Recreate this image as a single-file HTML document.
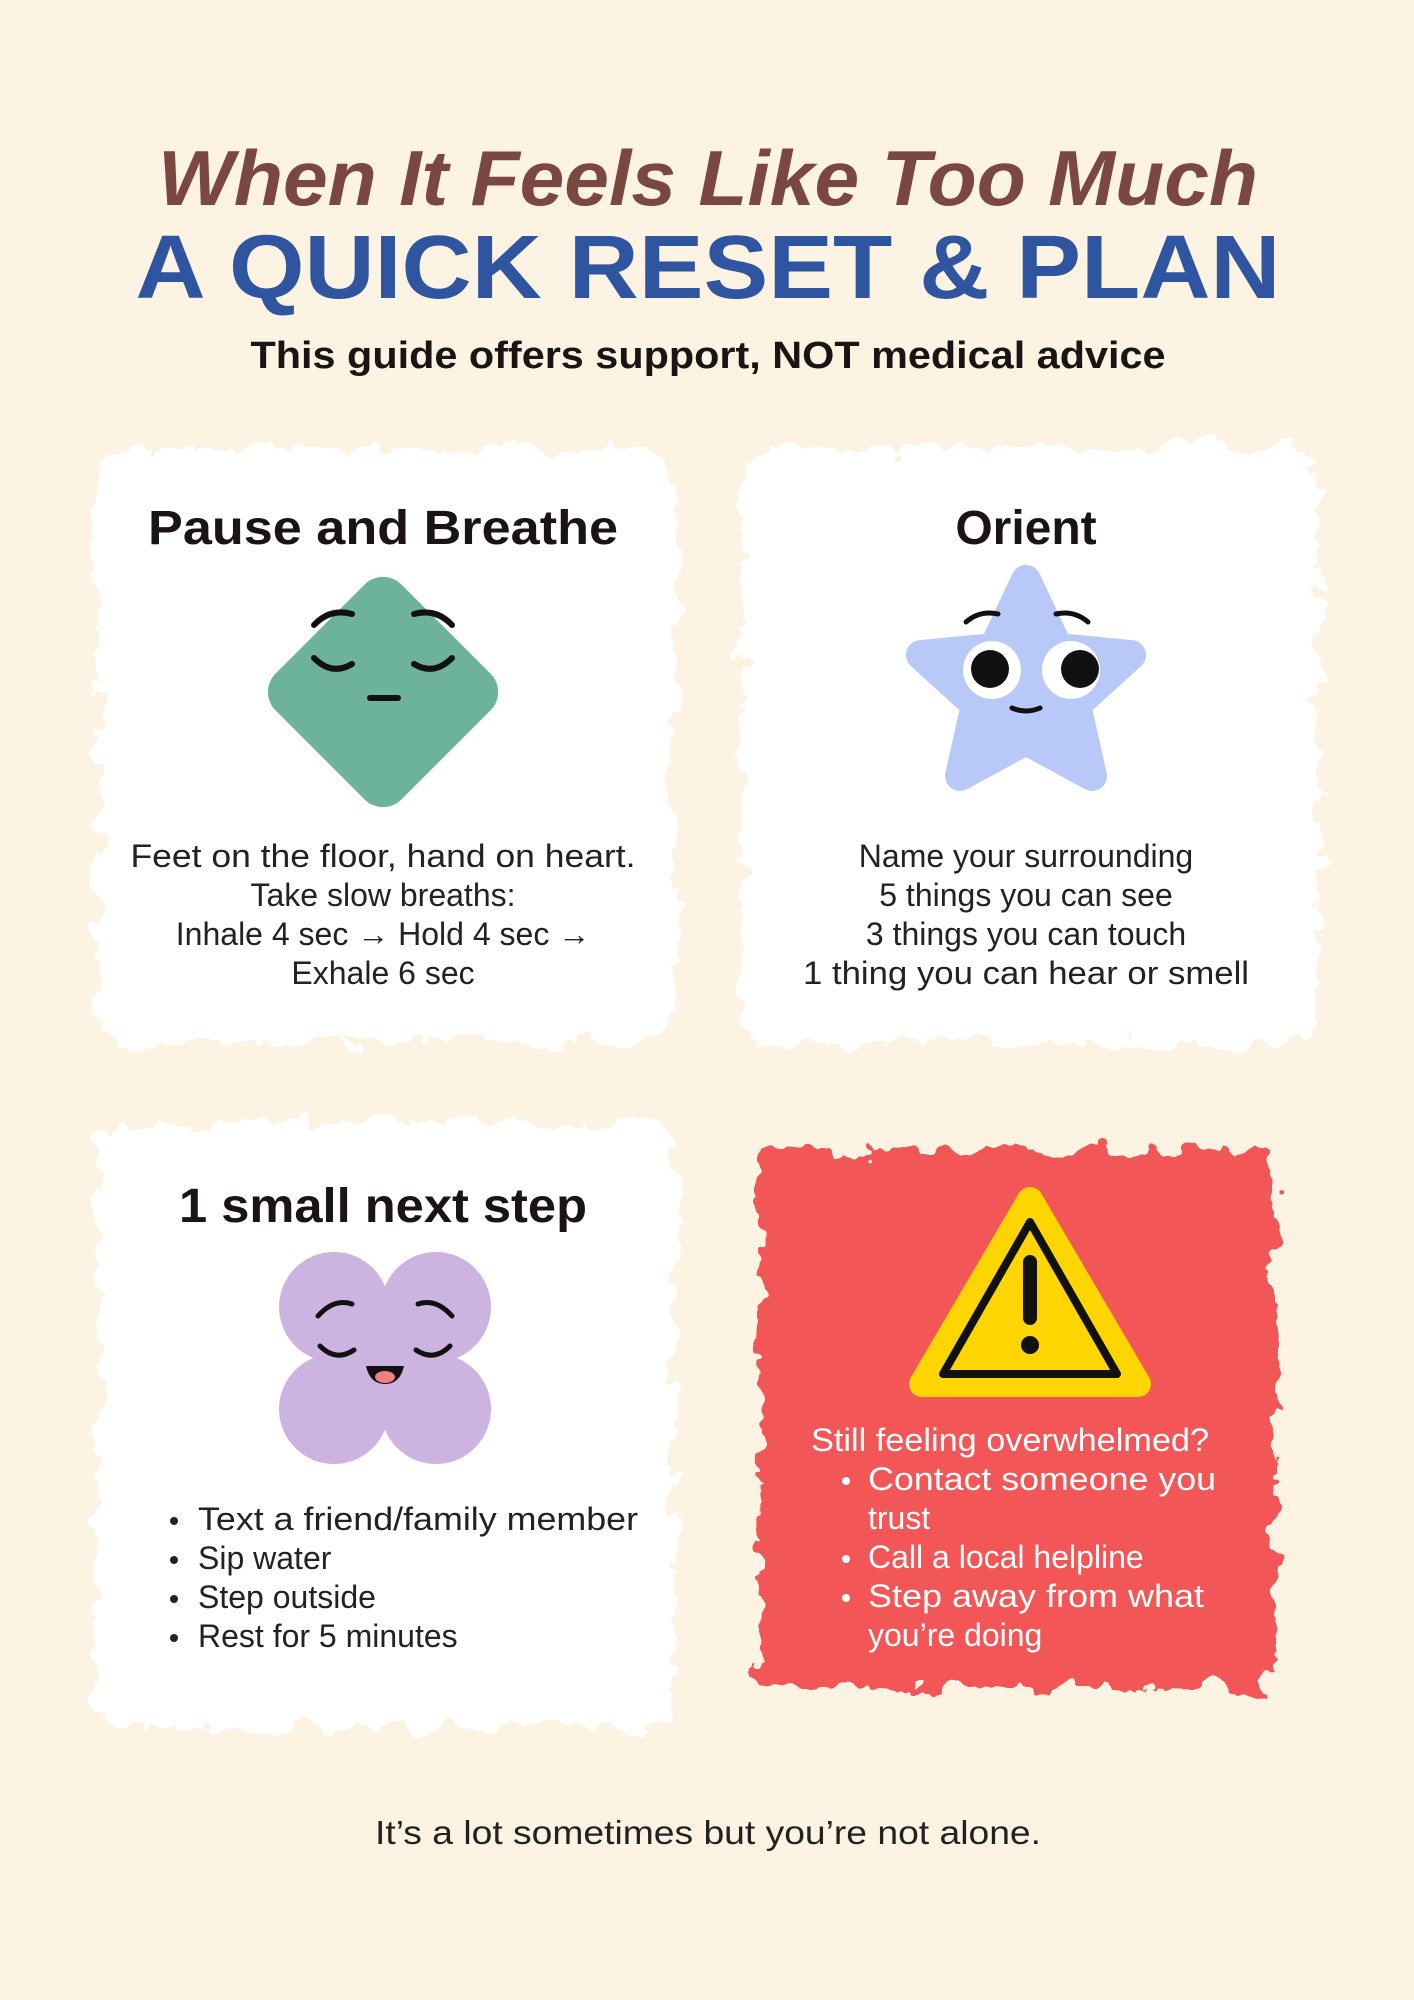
<!DOCTYPE html>
<html><head><meta charset="utf-8"><style>
html,body{margin:0;padding:0;background:#fdf3e3;}
svg{display:block;}
text{font-family:"Liberation Sans","DejaVu Sans",sans-serif;}
</style></head><body>
<svg width="1414" height="2000" viewBox="0 0 1414 2000" xmlns="http://www.w3.org/2000/svg">
<defs>
<filter id="rough" x="-10%" y="-10%" width="120%" height="120%">
<feTurbulence type="fractalNoise" baseFrequency="0.035" numOctaves="3" seed="4" result="n"/>
<feDisplacementMap in="SourceGraphic" in2="n" scale="40" xChannelSelector="R" yChannelSelector="G"/>
</filter>
</defs>
<rect width="1414" height="2000" fill="#fdf3e3"/>

<text x="708" y="205" text-anchor="middle" font-family="DejaVu Serif,serif" font-style="italic" font-weight="bold" font-size="78" fill="#7a4743" textLength="1100" lengthAdjust="spacingAndGlyphs">When It Feels Like Too Much</text>
<text x="708" y="298" text-anchor="middle" font-family="DejaVu Sans,sans-serif" font-weight="bold" font-size="90" fill="#2f55a0" textLength="1145" lengthAdjust="spacingAndGlyphs">A QUICK RESET &amp; PLAN</text>
<text x="708" y="368" text-anchor="middle" font-weight="bold" font-size="38" fill="#1a1414" textLength="915" lengthAdjust="spacingAndGlyphs">This guide offers support, NOT medical advice</text>

<g filter="url(#rough)">
<rect x="98" y="448" width="576" height="596" rx="30" fill="#fff"/>
<rect x="741" y="448" width="577" height="596" rx="30" fill="#fff"/>
<rect x="98" y="1122" width="576" height="605" rx="30" fill="#fff"/>
<rect x="760" y="1150" width="514" height="538" rx="20" fill="#f25656"/>
</g>

<!-- Card 1 -->
<text x="383" y="544" text-anchor="middle" font-weight="bold" font-size="48" fill="#1a1414" textLength="470" lengthAdjust="spacingAndGlyphs">Pause and Breathe</text>
<rect x="294" y="603" width="178" height="178" rx="26" transform="rotate(45 383 692)" fill="#6db39a"/>
<g stroke="#111" stroke-width="6" fill="none" stroke-linecap="round">
<path d="M314 625 Q330 608 352 614"/><path d="M452 625 Q436 608 414 614"/>
<path d="M314 658 Q332 676 352 664"/><path d="M452 658 Q434 676 414 664"/>
<path d="M370 698 L398 698"/>
</g>
<g font-size="32" fill="#222" text-anchor="middle">
<text x="383" y="867" textLength="505" lengthAdjust="spacingAndGlyphs">Feet on the floor, hand on heart.</text>
<text x="383" y="906">Take slow breaths:</text>
<text x="383" y="945">Inhale 4 sec → Hold 4 sec →</text>
<text x="383" y="984">Exhale 6 sec</text>
</g>

<!-- Card 2 -->
<text x="1026" y="544" text-anchor="middle" font-weight="bold" font-size="48" fill="#1a1414">Orient</text>
<polygon points="1026,580 1058,648 1131,655 1076,705 1092,776 1026,740 960,776 976,705 921,655 994,648" fill="#b8c8f8" stroke="#b8c8f8" stroke-width="30" stroke-linejoin="round"/>
<g stroke="#111" stroke-width="5" fill="none" stroke-linecap="round">
<path d="M966 622 Q980 610 998 614"/><path d="M1088 622 Q1074 610 1056 614"/>
<path d="M1012 708 Q1026 714 1040 708"/>
</g>
<circle cx="992" cy="670" r="29" fill="#fff"/><circle cx="990" cy="669" r="19" fill="#111"/>
<circle cx="1071" cy="670" r="29" fill="#fff"/><circle cx="1080" cy="669" r="19" fill="#111"/>
<g font-size="32" fill="#222" text-anchor="middle">
<text x="1026" y="867">Name your surrounding</text>
<text x="1026" y="906">5 things you can see</text>
<text x="1026" y="945">3 things you can touch</text>
<text x="1026" y="984" textLength="446" lengthAdjust="spacingAndGlyphs">1 thing you can hear or smell</text>
</g>

<!-- Card 3 -->
<text x="383" y="1222" text-anchor="middle" font-weight="bold" font-size="48" fill="#1a1414" textLength="408" lengthAdjust="spacingAndGlyphs">1 small next step</text>
<g fill="#cdb3e0">
<circle cx="334" cy="1307" r="55"/><circle cx="436" cy="1307" r="55"/>
<circle cx="334" cy="1409" r="55"/><circle cx="436" cy="1409" r="55"/>
<rect x="320" y="1295" width="130" height="126"/>
</g>
<g stroke="#111" stroke-width="5" fill="none" stroke-linecap="round">
<path d="M318 1316 Q334 1298 352 1304"/><path d="M452 1316 Q436 1298 418 1304"/>
<path d="M320 1346 Q336 1362 354 1350"/><path d="M450 1346 Q434 1362 416 1350"/>
</g>
<path d="M366 1366 Q385 1366 404 1366 Q400 1384 385 1384 Q370 1384 366 1366 Z" fill="#111"/>
<ellipse cx="385" cy="1377" rx="10" ry="6" fill="#f08080"/>
<g font-size="32" fill="#222">
<text x="198" y="1530" textLength="440" lengthAdjust="spacingAndGlyphs">Text a friend/family member</text>
<text x="198" y="1569">Sip water</text>
<text x="198" y="1608">Step outside</text>
<text x="198" y="1647">Rest for 5 minutes</text>
</g>
<g fill="#222"><circle cx="174" cy="1521" r="4"/><circle cx="174" cy="1560" r="4"/><circle cx="174" cy="1599" r="4"/><circle cx="174" cy="1638" r="4"/></g>

<!-- Card 4 -->
<polygon points="1030,1200 1138,1384 922,1384" fill="#ffd500" stroke="#ffd500" stroke-width="26" stroke-linejoin="round"/>
<polygon points="1030,1222 1117,1374 943,1374" fill="none" stroke="#111" stroke-width="8" stroke-linejoin="round"/>
<path d="M1030 1262 L1030 1318" stroke="#111" stroke-width="14" stroke-linecap="round"/>
<circle cx="1030" cy="1345" r="9" fill="#111"/>
<g font-size="32" fill="#fff">
<text x="811" y="1451" textLength="398" lengthAdjust="spacingAndGlyphs">Still feeling overwhelmed?</text>
<text x="868" y="1490" textLength="348" lengthAdjust="spacingAndGlyphs">Contact someone you</text>
<text x="868" y="1529">trust</text>
<text x="868" y="1568">Call a local helpline</text>
<text x="868" y="1607" textLength="336" lengthAdjust="spacingAndGlyphs">Step away from what</text>
<text x="868" y="1646">you’re doing</text>
</g>
<g fill="#fff"><circle cx="846" cy="1481" r="4"/><circle cx="846" cy="1559" r="4"/><circle cx="846" cy="1598" r="4"/></g>

<text x="708" y="1844" text-anchor="middle" font-size="33" fill="#222" textLength="666" lengthAdjust="spacingAndGlyphs">It’s a lot sometimes but you’re not alone.</text>
</svg>
</body></html>
